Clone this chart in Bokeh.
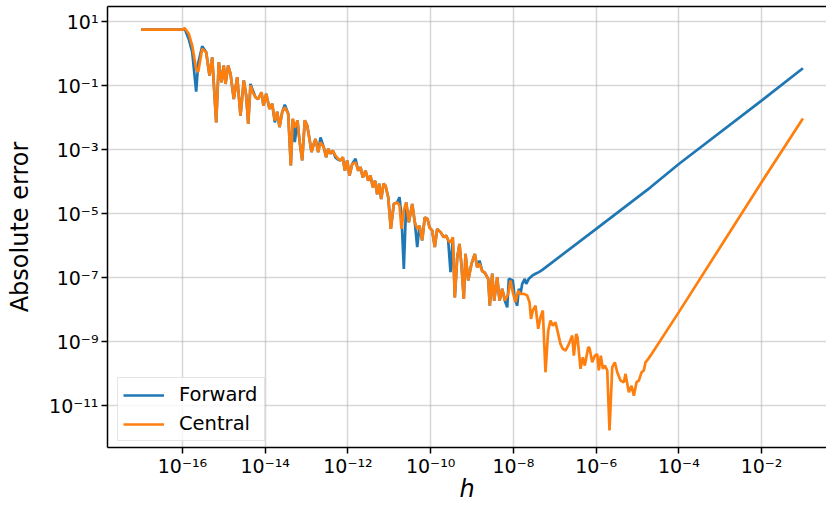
import numpy as np
from bokeh.plotting import figure
from bokeh.models import Range1d, FixedTicker, CustomJSTickFormatter, LogAxis
from bokeh.embed import file_html
from bokeh.resources import INLINE

# Step sizes h, as decimal exponents (log10 h), shared by both schemes in the noisy region
h_log10_noisy = [
    -17.0, -16.0, -15.944, -15.848, -15.765, -15.669, -15.62, -15.524, -15.427, -15.347,
    -15.282, -15.185, -15.122, -15.057, -15.001, -14.96, -14.895, -14.839, -14.76, -14.677,
    -14.598, -14.518, -14.46, -14.411, -14.356, -14.3, -14.235, -14.17, -14.09, -14.042,
    -13.976, -13.896, -13.831, -13.768, -13.71, -13.655, -13.589, -13.527, -13.444, -13.381,
    -13.333, -13.285, -13.22, -13.171, -13.106, -13.043, -12.985, -12.929, -12.881, -12.825,
    -12.784, -12.719, -12.663, -12.584, -12.526, -12.477, -12.422, -12.366, -12.301, -12.235,
    -12.18, -12.124, -12.076, -12.018, -11.962, -11.897, -11.817, -11.752, -11.696, -11.641,
    -11.575, -11.51, -11.455, -11.399, -11.346, -11.293, -11.244, -11.196, -11.139, -11.091,
    -11.026, -10.963, -10.891, -10.809, -10.753, -10.705, -10.649, -10.591, -10.528, -10.446,
    -10.383, -10.325, -10.27, -10.205, -10.142, -10.076, -10.028, -9.963, -9.9, -9.842,
    -9.762, -9.682, -9.624, -9.576, -9.52, -9.465, -9.416, -9.358, -9.303, -9.254,
    -9.199, -9.158, -9.092, -9.013, -8.933, -8.875, -8.819, -8.754, -8.691, -8.609,
    -8.57, -8.512, -8.464, -8.391, -8.335, -8.27, -8.207,
]

# Absolute error of the forward difference (log10), noisy region
forward_log10_noisy = [
    0.75, 0.75, 0.77, 0.45, 0.05, -1.19, -0.3, 0.23, 0.04, -0.69,
    -0.12, -2.15, -0.27, -0.9, -0.375, -0.95, -0.375, -0.63, -1.42, -0.74,
    -1.94, -0.84, -1.31, -2.2, -0.95, -1.15, -1.37, -1.42, -1.21, -1.63,
    -1.26, -1.73, -1.57, -2.15, -1.82, -2.3, -1.83, -1.6, -1.88, -3.5,
    -2.04, -2.77, -2.09, -2.72, -3.34, -2.09, -2.25, -2.67, -3.08, -2.82,
    -2.67, -3.08, -2.62, -2.93, -3.24, -2.98, -3.13, -3.03, -3.25, -3.32,
    -3.34, -3.24, -3.66, -3.34, -3.81, -3.45, -3.29, -3.66, -3.55, -3.87,
    -3.66, -3.97, -3.81, -4.18, -3.97, -4.4, -4.07, -4.55, -4.07, -4.13,
    -4.49, -5.48, -4.7, -4.65, -4.49, -5.1, -6.73, -4.65, -5.27, -4.7,
    -5.27, -6.05, -5.38, -5.84, -5.12, -5.17, -5.43, -5.53, -6.05, -5.48,
    -5.58, -5.74, -5.69, -5.84, -6.83, -5.74, -7.62, -6.37, -5.95, -6.63,
    -7.67, -6.26, -7.09, -6.57, -6.26, -6.68, -6.47, -6.8, -6.85, -7.04,
    -7.88, -6.88, -7.72, -6.99, -7.72, -7.35, -7.72,
]

# Absolute error of the central difference (log10), noisy region
central_log10_noisy = [
    0.75, 0.75, 0.79, 0.62, 0.25, -0.48, -0.58, 0.15, 0.04, -0.69,
    -0.12, -2.15, -0.27, -0.9, -0.375, -0.95, -0.375, -0.63, -1.42, -0.74,
    -1.94, -0.84, -1.31, -2.2, -1.0, -1.21, -1.37, -1.42, -1.21, -1.63,
    -1.26, -1.73, -1.57, -2.09, -1.82, -2.3, -1.83, -1.68, -1.88, -3.5,
    -2.04, -2.3, -2.09, -2.72, -3.34, -2.09, -2.25, -2.67, -3.08, -2.82,
    -2.67, -3.08, -2.77, -2.93, -3.24, -2.98, -3.13, -3.03, -3.19, -3.29,
    -3.34, -3.24, -3.66, -3.34, -3.81, -3.45, -3.4, -3.66, -3.55, -3.87,
    -3.66, -3.97, -3.81, -4.18, -3.97, -4.4, -4.07, -4.55, -4.07, -4.13,
    -4.49, -5.48, -4.7, -4.65, -4.75, -5.48, -4.9, -4.65, -5.27, -4.7,
    -5.27, -5.48, -5.38, -5.84, -5.12, -5.17, -5.43, -5.53, -6.05, -5.48,
    -5.58, -5.74, -5.69, -5.84, -5.9, -5.74, -7.62, -6.37, -5.95, -6.63,
    -7.67, -6.26, -7.09, -6.57, -6.26, -6.68, -6.57, -6.8, -6.85, -7.04,
    -7.88, -6.88, -7.72, -6.99, -7.72, -7.35, -7.72,
]

# Forward difference beyond the noisy region: truncation error grows like h
h_log10_forward_tail = [
    -8.149, -8.11, -8.014, -7.966, -7.908, -7.869, -7.828, -7.787, -7.724, -7.69,
    -7.627, -7.545, -7.465, -7.385, -7.30, -5.894, -4.685, -4.0, -2.0, -1.0,
]
forward_log10_tail = [
    -7.93, -7.04, -7.09, -7.66, -7.88, -7.35, -7.51, -7.2, -7.04, -7.2,
    -7.04, -6.94, -6.88, -6.83, -6.76, -5.375, -4.18, -3.45, -1.47, -0.46,
]

# Central difference beyond the noisy region: truncation error grows like h^2
h_log10_central_tail = [
    -8.125, -8.07, -8.014, -7.949, -7.884, -7.828, -7.748, -7.666, -7.61, -7.574,
    -7.53, -7.465, -7.4, -7.344, -7.289, -7.224, -7.158, -7.103, -7.047, -6.982,
    -6.917, -6.861, -6.805, -6.74, -6.66, -6.578, -6.539, -6.481, -6.45, -6.377,
    -6.322, -6.273, -6.191, -6.159, -6.094, -6.031, -5.973, -5.935, -5.886, -5.838,
    -5.789, -5.731, -5.676, -5.61, -5.547, -5.489, -5.41, -5.33, -5.289, -5.209,
    -5.144, -5.088, -5.023, -4.967, -4.902, -4.847, -4.806, -4.74, -4.685, -4.0,
    -2.0, -1.0,
]
central_log10_tail = [
    -7.51, -7.09, -7.46, -7.77, -7.41, -7.51, -7.51, -7.56, -7.77, -8.29,
    -8.03, -7.88, -8.6, -8.24, -8.03, -9.96, -8.66, -8.34, -8.5, -8.4,
    -8.76, -9.08, -9.23, -9.28, -9.08, -8.81, -9.44, -8.76, -8.87, -9.85,
    -9.49, -9.75, -9.18, -9.2, -9.65, -9.44, -9.39, -9.9, -9.44, -9.85,
    -9.75, -9.9, -11.78, -9.8, -9.65, -9.96, -10.22, -10.27, -10.01, -10.58,
    -10.38, -10.69, -10.27, -10.22, -9.96, -9.9, -9.65, -9.54, -9.44, -8.08,
    -4.02, -2.03,
]

x_major_ticks = [1e-16, 1e-14, 1e-12, 1e-10, 1e-8, 1e-6, 1e-4, 1e-2]
y_major_ticks = [1e1, 1e-1, 1e-3, 1e-5, 1e-7, 1e-9, 1e-11]

h_forward = 10.0 ** np.array(h_log10_noisy + h_log10_forward_tail)
err_forward = 10.0 ** np.array(forward_log10_noisy + forward_log10_tail)
h_central = 10.0 ** np.array(h_log10_noisy + h_log10_central_tail)
err_central = 10.0 ** np.array(central_log10_noisy + central_log10_tail)

FONT = "DejaVu Sans"

p = figure(
    width=826, height=506,
    x_axis_type="log", y_axis_type="log",
    x_range=Range1d(10 ** -17.813, 10 ** -0.43),
    y_range=Range1d(10 ** -12.31, 10 ** 1.47),
    output_backend="svg", toolbar_location=None,
    min_border_left=107, min_border_right=0, min_border_top=6, min_border_bottom=59,
)
p.outline_line_color = None
p.background_fill_color = "white"
p.border_fill_color = "white"

# Power-of-ten labels with superscript exponents
sup_formatter = CustomJSTickFormatter(code=r"""
const sup = {"-": "\u207b", "0": "\u2070", "1": "\u00b9", "2": "\u00b2", "3": "\u00b3",
             "4": "\u2074", "5": "\u2075", "6": "\u2076", "7": "\u2077", "8": "\u2078", "9": "\u2079"};
const e = Math.round(Math.log10(tick));
return "10" + String(e).split("").map((c) => sup[c]).join("");
""")

for ax, ticks in ((p.xaxis[0], x_major_ticks), (p.yaxis[0], y_major_ticks)):
    ax.ticker = FixedTicker(ticks=ticks)
    ax.formatter = sup_formatter
    ax.major_tick_out = 6
    ax.major_tick_in = 0
    ax.minor_tick_out = 0
    ax.minor_tick_in = 0
    ax.major_tick_line_color = "black"
    ax.major_tick_line_width = 1.5
    ax.axis_line_color = "black"
    ax.axis_line_width = 1.5
    ax.major_label_text_font = FONT
    ax.major_label_text_font_size = "19px"
    ax.major_label_text_color = "black"
    ax.axis_label_text_font = FONT
    ax.axis_label_text_font_size = "24px"
    ax.axis_label_text_color = "black"

p.xaxis.axis_label = "h"
p.xaxis.axis_label_text_font_style = "italic"
p.xaxis.major_label_standoff = 1
p.xaxis.axis_label_standoff = -5
p.yaxis.axis_label = "Absolute error"
p.yaxis.axis_label_text_font_style = "normal"
p.yaxis.major_label_standoff = 3
p.yaxis.axis_label_standoff = 12

# Top spine
top_spine = LogAxis(
    ticker=FixedTicker(ticks=[]),
    major_tick_out=0, major_tick_in=0, minor_tick_out=0, minor_tick_in=0,
    major_label_standoff=0, axis_label_standoff=0,
    major_label_text_font_size="0px",
    axis_line_color="black", axis_line_width=1.5,
)
p.add_layout(top_spine, "above")

for g in (p.xgrid[0], p.ygrid[0]):
    g.grid_line_color = "#b0b0b0"
    g.grid_line_alpha = 0.5
    g.grid_line_width = 1.5

p.line(h_forward, err_forward, line_color="#1f77b4", line_width=2.7, legend_label="Forward")
p.line(h_central, err_central, line_color="#ff7f0e", line_width=2.7, legend_label="Central")

lg = p.legend[0]
lg.location = (10, 6)
lg.margin = 0
lg.padding = 5
lg.spacing = 6
lg.glyph_width = 41
lg.glyph_height = 20
lg.label_height = 20
lg.label_width = 80
lg.label_standoff = 15
lg.label_text_font = FONT
lg.label_text_font_size = "19.5px"
lg.label_text_color = "black"
lg.border_line_color = "#cccccc"
lg.border_line_width = 1.5
lg.background_fill_color = "white"
lg.background_fill_alpha = 0.8

with open("out.html", "w", encoding="utf-8") as f:
    f.write(file_html(p, INLINE))
